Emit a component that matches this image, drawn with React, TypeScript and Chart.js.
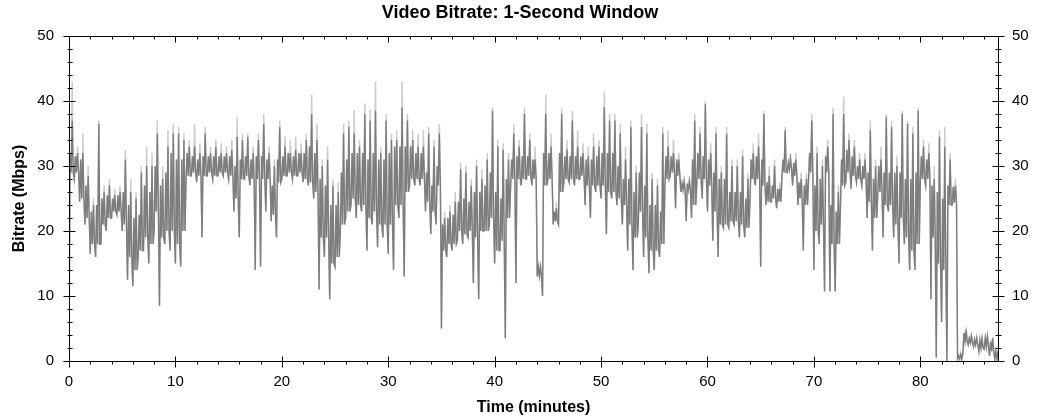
import React, { useEffect, useRef } from "react";
import { Chart, registerables } from "chart.js";

Chart.register(...registerables);

// ---- Data (one entry per half-minute bin) ----
const BIN_MINUTES = 0.5;

// lowest dip of the dark trace in each bin (Mbps)
const lows = [
  0, 28, 24.5, 21, 16.5, 16, 18, 20, 22, 22.5,
  20, 12.5, 11.5, 16, 17, 15, 20, 8.5, 18, 17,
  15, 14.5, 28, 28.5, 27.5, 19, 28.5, 28, 28.5, 28.5,
  28, 23, 19, 28, 27, 14, 14.5, 23, 21.5, 19,
  28, 28.5, 28, 28.5, 27.5, 27, 25, 11, 16, 9.5,
  14.5, 20, 22, 24, 22, 23, 17, 21, 17.5, 19,
  16.5, 14, 22, 13, 27, 27, 27, 23, 19.5, 21,
  5, 16, 17, 18.5, 18, 19, 12, 9.5, 20, 21,
  15, 17, 3.5, 27, 12, 27, 28, 27, 13, 10,
  28, 21, 21, 27.5, 27.5, 27, 28, 24, 22, 26,
  25, 19.5, 25, 24, 21, 17, 14, 21, 16, 13.5,
  14, 16, 27, 28.5, 23.5, 26, 21.5, 22, 27.5, 25,
  23, 18.5, 16, 20.5, 20.5, 21, 19, 19, 25, 27,
  14.5, 24, 24.5, 23.5, 28.5, 29, 27, 24, 17, 28,
  14, 18, 10.7, 10.7, 10.7, 24, 27.5, 26.5, 27.5, 27,
  22, 17, 25.5, 19, 23, 19, 15, 18, 14, 14,
  27.5, 27, 9.5, 0.5, 6, 0, 24, 0.3, 1.2, 2.5, 2.2, 1.5, 1.8, 0.8, 0.3,
];

// lower edge of the dense band in each bin (Mbps)
const bandLows = [
  29, 29, 25, 22, 18, 18, 21, 22, 23, 23,
  21, 16, 14, 17, 19, 18, 23, 19, 20, 20,
  18, 20, 28.5, 29, 28.5, 28.5, 29, 28.5, 29, 29,
  28.5, 25, 28, 28.5, 28, 28, 28, 28, 22.5, 27.5,
  28.5, 29, 28.5, 29, 28, 27.5, 26, 19, 19, 15,
  16, 21, 23, 25, 24, 24, 22, 23, 21, 21,
  21, 24, 24, 26, 28, 28, 28, 24.5, 23, 27,
  17, 18, 18, 20, 19.5, 20, 19, 20, 20, 22,
  17, 18.5, 22, 28, 28, 28, 28.5, 28, 13, 27,
  28, 21.5, 26, 28, 28, 28, 28.5, 27, 27, 27,
  27, 26, 26, 25, 24, 21, 19, 23, 19, 17,
  17, 18, 28, 29, 28.5, 26.3, 26.3, 24, 28, 28,
  27, 23, 21, 21, 21.5, 21.5, 21, 20.5, 28, 28,
  27, 24.5, 25, 24.5, 29, 29.5, 28.5, 25, 24, 29,
  20, 21, 29, 18, 18, 27, 29, 28.5, 28, 28,
  24.5, 22, 26, 24, 24, 21, 22, 19, 17, 18,
  28, 28, 19, 15, 14, 24, 24.3, 0.3, 3, 2.8, 2.5, 2, 2.2, 1.5, 0.3,
];

// upper edge of the dense band in each bin (Mbps)
const bandHighs = [
  32, 31.5, 31, 27, 23, 24, 25, 25.5, 25, 25.5,
  26, 24, 22, 22.5, 27, 26, 30, 27, 29, 32,
  31, 31, 32, 31.5, 31, 31.5, 31.5, 31.5, 31.5, 31.5,
  31.5, 30, 31, 31.5, 31, 31.5, 31.5, 31, 27, 31,
  31.5, 32, 31.5, 32, 32, 33, 32, 28, 27, 24,
  24, 29, 31, 32, 32, 32, 31, 32, 31, 31,
  32, 33, 33, 33, 33, 32, 32, 29, 27, 30,
  21, 22, 22.5, 24.5, 25, 24.5, 26, 26, 27, 29,
  26, 25, 28, 31, 31.5, 31.5, 31.5, 31, 14.5, 32,
  32, 23, 32, 31.5, 31.5, 31.5, 31.5, 31, 31, 31.5,
  32, 32, 32, 30, 28, 28, 26, 29, 27, 24,
  24, 23, 31.5, 31.5, 31, 27.3, 27.3, 31, 32, 31.5,
  31, 29, 28, 28, 26, 26, 26, 25, 31, 31.5,
  31, 27.5, 27, 26.5, 31, 30.5, 30.5, 27.5, 27, 32,
  27, 28, 31.5, 24, 23, 31, 32.5, 31.5, 30, 30,
  29, 28, 30, 29, 29, 29, 29, 28, 28, 29,
  31.5, 31, 27, 26, 25, 27, 26.8, 0.8, 4.3, 3.5, 3.3, 3.2, 3.5, 3, 1.5,
];

// highest spike of the dark trace in each bin (Mbps)
const highs = [
  37, 32, 32, 28.5, 24, 36.5, 26, 27, 25.5, 26,
  31, 26, 25, 29, 30, 30, 35, 28, 33, 35,
  35, 34, 33, 33, 32, 35, 32, 33, 32, 32,
  32.5, 34.5, 34, 34.5, 32, 34, 36.5, 32, 30, 36,
  33, 32, 32.5, 32, 34, 38, 34, 30, 31, 27,
  26, 35, 36, 35, 33, 38, 37, 38.5, 32, 37,
  34, 34, 39, 37, 34, 33, 33, 35, 33, 35,
  22, 23, 24.5, 29.5, 29, 27, 30, 28, 31, 38.5,
  33, 32.5, 31, 35, 33, 38, 34, 31, 14.5, 38,
  33, 23.5, 38, 32.5, 37, 33, 32, 31.5, 33, 33,
  39, 37, 37, 35, 31, 36, 29, 36, 35, 28,
  27, 35, 33, 32, 31, 27.5, 27.5, 37, 35, 39.5,
  32, 35, 29, 35, 30, 30, 31.5, 28, 32, 33,
  38, 28.5, 30, 26.5, 35.5, 31, 31, 28, 28, 37,
  32, 30, 33, 38, 26, 38, 34, 33, 31, 31,
  35.5, 30, 31, 37.5, 36, 30, 38, 36.5, 35, 38.5,
  33, 32, 28, 34.5, 33, 31, 27, 1, 4.8, 3.8, 3.5, 3.5, 3.8, 3.5, 1.5,
];

// top of the light (peak) trace in each bin (Mbps)
const peaks = [
  43, 33, 35, 30, 25, 37, 27, 28, 26.5, 27,
  32.5, 28, 26, 30, 33, 32, 37, 30, 35.5, 36.5,
  36, 35, 34, 36.5, 33.5, 36, 33, 34, 33.5, 33,
  34, 37.5, 35, 35, 33, 35, 38, 33, 31, 37,
  34.5, 34, 34.5, 33.5, 35, 41, 36.5, 31, 33, 28,
  27.5, 36.5, 37, 38.6, 34, 39.6, 38.6, 43, 33, 38,
  35, 35.5, 43, 38, 35.5, 35, 35.5, 36, 34, 36.5,
  23, 24, 26, 30.5, 30, 28, 31, 29.5, 32, 39,
  34, 33.5, 32, 36.5, 34, 39, 35, 33, 15, 41,
  35, 24.5, 39, 34, 38.5, 35.5, 33.5, 33, 35, 34,
  41.5, 38, 38, 36.5, 33, 37, 30, 38, 36.5, 29,
  28, 36, 35.5, 34, 32, 28.5, 28.5, 38, 36, 40,
  33.5, 36, 30, 36, 31, 31, 32.5, 29, 33.5, 35,
  38.5, 30, 31, 27.5, 36, 32, 32, 29, 29, 38,
  33, 31, 34, 39, 27, 40.7, 35, 34, 32, 32,
  37, 31, 33, 38, 37, 31.5, 38.5, 37, 36, 39,
  34, 33.5, 30, 35.5, 36, 32, 28, 1.2, 5.2, 4, 3.7, 3.7, 4, 3.7, 1.7,
];

const TITLE = "Video Bitrate: 1-Second Window";
const X_TITLE = "Time (minutes)";
const Y_TITLE = "Bitrate (Mbps)";
const X_MAX = 87.3;
const Y_MAX = 50;
const MAJOR_STEP = 10;
const MINOR_STEP = 2;

const FONT = '"Liberation Sans", Arial, Helvetica, sans-serif';

// each bin is traced as: dip, band top, band bottom, spike, band bottom
function buildTrace(spikeTops: number[]) {
  const pts: { x: number; y: number }[] = [];
  const step = BIN_MINUTES / 5;
  lows.forEach((lo, i) => {
    const t = i * BIN_MINUTES;
    pts.push({ x: t, y: lo });
    pts.push({ x: t + step, y: bandHighs[i] });
    pts.push({ x: t + 2 * step, y: bandLows[i] });
    pts.push({ x: t + 3 * step, y: spikeTops[i] });
    pts.push({ x: t + 4 * step, y: bandLows[i] });
  });
  return pts;
}

const frameTicks = {
  id: "frameTicks",
  afterDatasetsDraw(chart: any) {
    const { ctx, chartArea: a, scales } = chart;
    const xs = scales.x;
    const ys = scales.y;
    const L = Math.round(a.left) + 0.5;
    const R = Math.round(a.right) + 0.5;
    const T = Math.round(a.top) + 0.5;
    const B = Math.round(a.bottom) + 0.5;
    ctx.save();
    ctx.strokeStyle = "#000";
    ctx.lineWidth = 1;
    ctx.beginPath();
    ctx.rect(L, T, R - L, B - T);
    for (let v = 0; v <= X_MAX + 1e-6; v += MINOR_STEP) {
      const px = Math.round(xs.getPixelForValue(v)) + 0.5;
      const major = v % MAJOR_STEP === 0;
      if (major) {
        ctx.moveTo(px, B - 5);
        ctx.lineTo(px, B + 6);
        ctx.moveTo(px, T);
        ctx.lineTo(px, T + 6);
      } else {
        ctx.moveTo(px, B);
        ctx.lineTo(px, B + 3);
        ctx.moveTo(px, T);
        ctx.lineTo(px, T + 3);
      }
    }
    for (let v = 0; v <= Y_MAX + 1e-6; v += MINOR_STEP) {
      const py = Math.round(ys.getPixelForValue(v)) + 0.5;
      const major = v % MAJOR_STEP === 0;
      if (major) {
        ctx.moveTo(L - 6, py);
        ctx.lineTo(L + 6, py);
        ctx.moveTo(R - 6, py);
        ctx.lineTo(R + 6, py);
      } else {
        ctx.moveTo(L - 2, py);
        ctx.lineTo(L + 3, py);
        ctx.moveTo(R - 3, py);
        ctx.lineTo(R + 3, py);
      }
    }
    ctx.stroke();
    ctx.restore();
  },
};

export default function App() {
  const ref = useRef<HTMLCanvasElement | null>(null);

  useEffect(() => {
    if (!ref.current) return;
    const tickFont = { family: FONT, size: 15 };
    const axisTitleFont = { family: FONT, size: 16, weight: "bold" as const };
    const chart = new Chart(ref.current, {
      type: "line",
      data: {
        datasets: [
          {
            label: "Bitrate",
            data: buildTrace(highs),
            borderColor: "#7d7d7d",
            borderWidth: 1.4,
            pointRadius: 0,
            tension: 0,
            fill: false,
            order: 0,
          },
          {
            label: "Peak",
            data: buildTrace(peaks),
            borderColor: "#cccccc",
            borderWidth: 1.5,
            pointRadius: 0,
            tension: 0,
            fill: false,
            order: 1,
          },
        ],
      },
      options: {
        responsive: false,
        animation: false,
        events: [],
        layout: { padding: 0 },
        plugins: {
          legend: { display: false },
          tooltip: { enabled: false },
          title: {
            display: true,
            text: TITLE,
            color: "#000",
            font: { family: FONT, size: 18, weight: "bold", lineHeight: 1.2 },
            padding: { top: 2, bottom: 12.4 },
          },
        },
        scales: {
          x: {
            type: "linear",
            position: "bottom",
            min: 0,
            max: X_MAX,
            afterFit: (s: any) => {
              s.height = 59;
            },
            grid: { display: false, drawTicks: false },
            border: { display: false },
            ticks: {
              stepSize: MAJOR_STEP,
              includeBounds: false,
              padding: 12,
              color: "#000",
              font: tickFont,
              maxRotation: 0,
              autoSkip: false,
            },
            title: {
              display: true,
              text: X_TITLE,
              color: "#000",
              font: axisTitleFont,
              padding: { top: 0, bottom: 3 },
            },
          },
          y: {
            type: "linear",
            position: "left",
            min: 0,
            max: Y_MAX,
            afterFit: (s: any) => {
              s.width = 69;
            },
            grid: { display: false, drawTicks: false },
            border: { display: false },
            ticks: { stepSize: MAJOR_STEP, padding: 15, color: "#000", font: tickFont },
            title: {
              display: true,
              text: Y_TITLE,
              color: "#000",
              font: axisTitleFont,
              padding: { top: 10, bottom: 0 },
            },
          },
          y2: {
            type: "linear",
            position: "right",
            min: 0,
            max: Y_MAX,
            afterFit: (s: any) => {
              s.width = 42;
            },
            grid: { display: false, drawTicks: false },
            border: { display: false },
            ticks: { stepSize: MAJOR_STEP, padding: 14, color: "#000", font: tickFont },
          },
        },
      },
      plugins: [frameTicks],
    } as any);
    return () => chart.destroy();
  }, []);

  return (
    <div style={{ position: "absolute", left: 0, top: 0, width: 1040, height: 420, background: "#fff" }}>
      <canvas ref={ref} width={1040} height={420} style={{ display: "block" }} />
    </div>
  );
}
